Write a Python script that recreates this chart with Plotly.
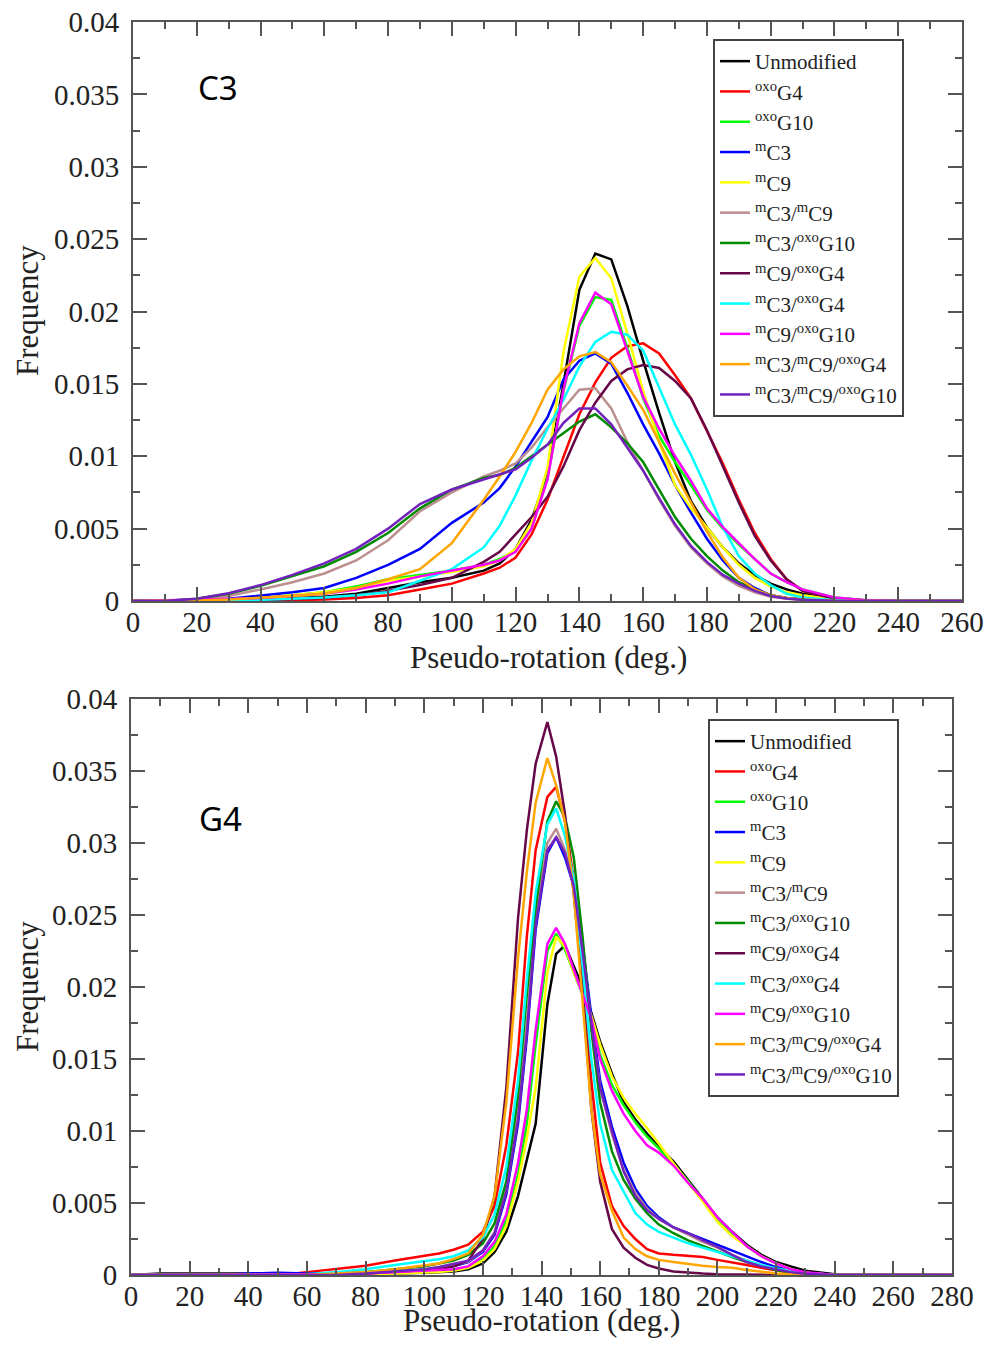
import plotly.graph_objects as go

# ---------------- data (frequency values in units of 1e-3) ----------------
SCALE = 1e-3

SERIES_NAMES = [
    "Unmodified",
    "<sup>oxo</sup>G4",
    "<sup>oxo</sup>G10",
    "<sup>m</sup>C3",
    "<sup>m</sup>C9",
    "<sup>m</sup>C3/<sup>m</sup>C9",
    "<sup>m</sup>C3/<sup>oxo</sup>G10",
    "<sup>m</sup>C9/<sup>oxo</sup>G4",
    "<sup>m</sup>C3/<sup>oxo</sup>G4",
    "<sup>m</sup>C9/<sup>oxo</sup>G10",
    "<sup>m</sup>C3/<sup>m</sup>C9/<sup>oxo</sup>G4",
    "<sup>m</sup>C3/<sup>m</sup>C9/<sup>oxo</sup>G10",
]

COLORS = ["#000000", "#ff0000", "#00ff00", "#0000ff", "#ffff00", "#bc8f8f",
          "#008b00", "#670748", "#00ffff", "#ff00ff", "#ffa500", "#7221bc"]

# ---- panel C3 ----
X_C3 = [0, 10, 20, 30, 40, 50, 60, 70, 80, 90, 100, 110, 115, 120, 125, 130, 135, 140,
        145, 150, 155, 160, 165, 170, 175, 180, 185, 190, 195, 200, 205, 210, 220, 230, 240, 260]

C3_UNMOD = [0, 0, 0, 0.05, 0.1, 0.2, 0.3, 0.5, 0.9, 1.3, 1.6, 2.1, 2.6, 3.6, 5.6, 8.8, 15.0, 21.5,
            24.0, 23.6, 20.4, 16.6, 13.0, 9.6, 6.9, 5.1, 3.7, 2.6, 1.8, 1.2, 0.8, 0.5, 0.15, 0.03, 0, 0]
C3_OXOG4 = [0, 0, 0, 0, 0.03, 0.07, 0.1, 0.2, 0.4, 0.8, 1.2, 1.9, 2.3, 3.0, 4.6, 7.0, 10.0, 12.9,
            15.1, 16.8, 17.6, 17.8, 17.1, 15.6, 14.0, 11.8, 9.5, 7.0, 4.7, 2.9, 1.5, 0.7, 0.15, 0.03, 0, 0]
C3_OXOG10 = [0, 0, 0.05, 0.1, 0.2, 0.4, 0.6, 1.0, 1.5, 1.8, 2.1, 2.5, 2.9, 3.5, 5.0, 8.5, 14.5, 19.0,
             21.0, 20.8, 17.5, 14.0, 11.4, 9.6, 8.0, 6.3, 5.0, 3.9, 2.9, 1.9, 1.3, 0.8, 0.25, 0.05, 0, 0]
C3_MC3 = [0, 0, 0.05, 0.15, 0.35, 0.6, 0.9, 1.6, 2.5, 3.6, 5.4, 6.8, 7.8, 9.3, 11.0, 12.7, 15.3, 16.6,
          17.1, 16.4, 14.4, 12.2, 10.2, 8.0, 6.1, 4.3, 2.8, 1.6, 0.9, 0.4, 0.2, 0.1, 0.02, 0, 0, 0]
C3_MC9 = [0, 0, 0.05, 0.1, 0.2, 0.4, 0.6, 0.9, 1.4, 1.7, 2.0, 2.4, 2.8, 3.6, 5.4, 9.2, 17.2, 22.4,
          23.7, 22.3, 18.5, 14.5, 11.0, 8.0, 6.4, 5.1, 3.7, 2.5, 1.6, 1.0, 0.6, 0.4, 0.1, 0.02, 0, 0]
C3_MC3_MC9 = [0, 0, 0.1, 0.35, 0.8, 1.3, 1.9, 2.8, 4.2, 6.2, 7.5, 8.6, 9.0, 9.5, 10.6, 12.0, 13.3, 14.6,
              14.7, 13.3, 11.0, 9.0, 7.0, 5.2, 3.7, 2.6, 1.7, 1.05, 0.6, 0.3, 0.15, 0.08, 0.02, 0, 0, 0]
C3_MC3_OXOG10 = [0, 0, 0.15, 0.5, 1.05, 1.7, 2.4, 3.4, 4.7, 6.4, 7.7, 8.5, 8.7, 9.2, 10.0, 10.8, 11.6, 12.4,
                 12.9, 12.0, 10.9, 9.6, 7.7, 5.8, 4.3, 3.1, 2.1, 1.3, 0.8, 0.4, 0.2, 0.1, 0.02, 0, 0, 0]
C3_MC9_OXOG4 = [0, 0, 0, 0.03, 0.06, 0.12, 0.2, 0.4, 0.7, 1.1, 1.6, 2.7, 3.4, 4.6, 5.8, 7.2, 9.3, 11.8,
                13.7, 15.2, 16.0, 16.3, 16.1, 15.2, 14.0, 11.8, 9.3, 6.8, 4.5, 2.8, 1.5, 0.7, 0.15, 0.03, 0, 0]
C3_MC3_OXOG4 = [0, 0, 0, 0.03, 0.08, 0.15, 0.25, 0.4, 0.6, 1.4, 2.2, 3.7, 5.2, 7.3, 9.7, 11.9, 13.9, 16.2,
                17.9, 18.6, 18.4, 17.3, 14.8, 12.2, 10.1, 7.7, 5.1, 3.1, 1.9, 1.1, 0.5, 0.25, 0.05, 0, 0, 0]
C3_MC9_OXOG10 = [0, 0.05, 0.1, 0.15, 0.2, 0.35, 0.5, 0.8, 1.2, 1.7, 2.1, 2.5, 2.8, 3.4, 5.0, 8.4, 14.6, 19.2,
                 21.3, 20.5, 17.3, 14.1, 11.9, 10.0, 8.3, 6.4, 5.1, 4.0, 2.9, 1.9, 1.3, 0.8, 0.25, 0.05, 0, 0]
C3_MC3_MC9_OXOG4 = [0, 0, 0.03, 0.1, 0.2, 0.35, 0.5, 0.9, 1.5, 2.2, 4.0, 7.0, 8.6, 10.3, 12.3, 14.6, 16.0, 16.9,
                    17.2, 16.5, 14.9, 13.2, 11.0, 8.8, 6.8, 4.8, 3.0, 1.6, 0.8, 0.4, 0.2, 0.1, 0.02, 0, 0, 0]
C3_MC3_MC9_OXOG10 = [0, 0, 0.15, 0.53, 1.1, 1.8, 2.6, 3.6, 5.0, 6.7, 7.7, 8.4, 8.7, 9.1, 9.9, 10.8, 12.3, 13.3,
                     13.3, 12.2, 10.6, 9.0, 7.1, 5.3, 3.8, 2.7, 1.8, 1.2, 0.7, 0.35, 0.18, 0.08, 0.02, 0, 0, 0]

# ---- panel G4 ----
X_G4 = [0, 10, 20, 30, 40, 50, 60, 70, 80, 90, 100, 105, 110, 115, 120, 124, 128, 132, 135, 138,
        142, 145, 148, 151, 154, 157, 160, 164, 168, 172, 176, 180, 185, 190, 195, 200, 205, 210,
        215, 220, 225, 230, 240, 280]

G4_UNMOD = [0, 0.1, 0.1, 0.1, 0.1, 0.1, 0.05, 0.05, 0.1, 0.1, 0.15, 0.2, 0.25, 0.4, 0.8, 1.6, 3.0, 5.5, 8.0, 10.5,
            18.8, 22.3, 22.9, 21.5, 20.0, 18.2, 16.2, 14.0, 12.0, 10.8, 9.8, 8.9, 7.9, 6.6, 5.3, 4.0, 3.0, 2.1,
            1.4, 0.9, 0.6, 0.3, 0.05, 0]
G4_OXOG4 = [0, 0, 0, 0, 0, 0, 0.2, 0.45, 0.65, 1.0, 1.3, 1.5, 1.75, 2.1, 3.0, 4.8, 9.0, 15.5, 23.5, 29.5,
            33.2, 33.9, 31.5, 27.5, 20.5, 13.5, 7.8, 4.8, 3.4, 2.5, 1.8, 1.5, 1.4, 1.35, 1.25, 1.05, 0.9, 0.7,
            0.5, 0.3, 0.15, 0.05, 0, 0]
G4_OXOG10 = [0, 0, 0, 0, 0, 0, 0, 0.05, 0.1, 0.15, 0.25, 0.3, 0.35, 0.55, 1.1, 2.0, 3.8, 7.0, 10.5, 16.0,
             22.5, 23.7, 22.6, 21.0, 19.5, 17.8, 15.3, 13.2, 11.8, 10.6, 9.6, 8.8, 7.7, 6.5, 5.2, 3.9, 2.9, 2.0,
             1.3, 0.8, 0.4, 0.15, 0, 0]
G4_MC3 = [0, 0, 0, 0, 0.1, 0.15, 0.1, 0.1, 0.15, 0.2, 0.35, 0.45, 0.6, 0.9, 1.6, 2.8, 5.6, 10.5, 16.5, 24.0,
          29.3, 30.4, 29.0, 27.0, 23.0, 18.0, 13.5, 10.3, 7.8, 6.0, 4.8, 4.0, 3.3, 2.9, 2.5, 2.05, 1.65, 1.3,
          0.9, 0.55, 0.3, 0.12, 0.03, 0]
G4_MC9 = [0, 0, 0, 0, 0, 0, 0, 0.03, 0.05, 0.1, 0.15, 0.2, 0.3, 0.5, 1.0, 1.8, 3.4, 6.5, 9.5, 13.0,
          21.0, 23.5, 22.8, 21.0, 19.6, 18.0, 16.0, 13.8, 12.3, 11.2, 10.2, 9.1, 7.8, 6.4, 5.1, 3.7, 2.7, 2.0,
          1.3, 0.8, 0.4, 0.15, 0, 0]
G4_MC3_MC9 = [0, 0, 0, 0, 0, 0, 0, 0, 0.1, 0.2, 0.35, 0.5, 0.65, 0.95, 1.7, 3.0, 6.0, 11.5, 17.5, 24.8,
              30.0, 31.0, 29.5, 27.0, 22.5, 17.5, 13.0, 9.8, 7.3, 5.7, 4.6, 3.9, 3.3, 2.8, 2.3, 1.9, 1.4, 1.0,
              0.65, 0.4, 0.2, 0.08, 0, 0]
G4_MC3_OXOG10 = [0, 0, 0, 0, 0, 0, 0, 0.1, 0.2, 0.4, 0.6, 0.8, 1.0, 1.4, 2.2, 3.6, 6.5, 12.5, 19.5, 25.5,
                 31.5, 32.9, 31.8, 29.0, 23.5, 17.0, 12.0, 8.6, 6.6, 5.3, 4.3, 3.5, 2.9, 2.4, 2.0, 1.6, 1.25, 0.9,
                 0.6, 0.35, 0.15, 0.05, 0, 0]
G4_MC9_OXOG4 = [0, 0, 0, 0, 0, 0, 0, 0.05, 0.1, 0.2, 0.3, 0.4, 0.6, 1.0, 2.5, 5.5, 13.0, 24.8, 30.9, 35.5,
                38.4, 36.0, 32.0, 26.5, 20.0, 11.5, 6.5, 3.2, 1.9, 1.2, 0.7, 0.45, 0.25, 0.15, 0.1, 0.05, 0.03, 0,
                0, 0, 0, 0, 0, 0]
G4_MC3_OXOG4 = [0, 0, 0, 0, 0, 0, 0.05, 0.2, 0.4, 0.7, 0.95, 1.1, 1.3, 1.7, 2.6, 4.2, 7.5, 13.5, 20.5, 26.5,
                31.3, 32.4, 30.5, 27.5, 21.5, 15.0, 10.5, 7.3, 5.8, 4.3, 3.5, 3.0, 2.6, 2.2, 1.9, 1.6, 1.25, 0.95,
                0.7, 0.45, 0.25, 0.1, 0, 0]
G4_MC9_OXOG10 = [0, 0, 0, 0, 0, 0, 0.02, 0.05, 0.1, 0.2, 0.3, 0.35, 0.4, 0.6, 1.3, 2.3, 4.2, 7.8, 11.5, 17.0,
                 23.0, 24.1, 23.0, 21.2, 19.5, 17.8, 15.0, 12.8, 11.2, 10.0, 9.0, 8.5, 7.6, 6.4, 5.3, 4.0, 3.0, 2.0,
                 1.3, 0.8, 0.4, 0.2, 0, 0]
G4_MC3_MC9_OXOG4 = [0, 0, 0, 0, 0, 0, 0, 0.1, 0.2, 0.4, 0.65, 0.8, 1.1, 1.5, 2.8, 5.5, 12.0, 22.0, 28.0, 32.8,
                    35.9, 34.0, 31.5, 26.5, 19.0, 11.5, 7.0, 4.5, 2.6, 1.8, 1.3, 1.05, 0.9, 0.75, 0.65, 0.55, 0.5, 0.35,
                    0.2, 0.1, 0.05, 0, 0, 0]
G4_MC3_MC9_OXOG10 = [0, 0, 0, 0, 0, 0, 0, 0, 0.1, 0.25, 0.4, 0.55, 0.75, 1.0, 1.7, 2.9, 5.8, 10.8, 16.8, 24.3,
                     29.5, 30.4, 29.3, 27.0, 22.5, 17.5, 13.0, 10.0, 7.2, 5.5, 4.5, 3.9, 3.3, 2.9, 2.4, 1.95, 1.4, 0.9,
                     0.6, 0.4, 0.2, 0.08, 0, 0]

C3_SERIES = [C3_UNMOD, C3_OXOG4, C3_OXOG10, C3_MC3, C3_MC9, C3_MC3_MC9, C3_MC3_OXOG10,
             C3_MC9_OXOG4, C3_MC3_OXOG4, C3_MC9_OXOG10, C3_MC3_MC9_OXOG4, C3_MC3_MC9_OXOG10]
G4_SERIES = [G4_UNMOD, G4_OXOG4, G4_OXOG10, G4_MC3, G4_MC9, G4_MC3_MC9, G4_MC3_OXOG10,
             G4_MC9_OXOG4, G4_MC3_OXOG4, G4_MC9_OXOG10, G4_MC3_MC9_OXOG4, G4_MC3_MC9_OXOG10]

X_TICKS_C3 = ["0", "20", "40", "60", "80", "100", "120", "140", "160", "180", "200", "220", "240", "260"]
X_TICKS_G4 = ["0", "20", "40", "60", "80", "100", "120", "140", "160", "180", "200", "220", "240", "260", "280"]
Y_TICKS = ["0", "0.005", "0.01", "0.015", "0.02", "0.025", "0.03", "0.035", "0.04"]

# ---------------- figure ----------------
fig = go.Figure()

for name, color, ys in zip(SERIES_NAMES, COLORS, C3_SERIES):
    fig.add_trace(go.Scatter(x=X_C3, y=[v * SCALE for v in ys], mode="lines", name=name,
                             line=dict(color=color, width=2.5), xaxis="x", yaxis="y",
                             legend="legend"))
for name, color, ys in zip(SERIES_NAMES, COLORS, G4_SERIES):
    fig.add_trace(go.Scatter(x=X_G4, y=[v * SCALE for v in ys], mode="lines", name=name,
                             line=dict(color=color, width=2.5), xaxis="x2", yaxis="y2",
                             legend="legend2"))

FRAME = "#555555"
TICKFONT = dict(family="Liberation Serif", size=29, color="#222222")

# page body has an 8px margin: figure is sized to fit the 993x1348 window exactly
OFF = 8
W, H = 993 - 2 * OFF, 1348 - 2 * OFF


def px_x(px):
    return (px - OFF) / W


def px_y(py):
    return 1 - (py - OFF) / H


def xaxis(domain, labels, anchor):
    return dict(domain=domain, anchor=anchor, range=[0, float(labels[-1])], automargin=False,
                tickmode="array", tickvals=[float(t) for t in labels], ticktext=labels,
                showline=True, linecolor=FRAME, linewidth=2, mirror="ticks",
                ticks="inside", ticklen=14, tickwidth=2, tickcolor=FRAME,
                minor=dict(ticks="inside", ticklen=7, tickwidth=2, tickcolor=FRAME, dtick=10, tick0=0),
                showgrid=False, zeroline=False, tickfont=TICKFONT, ticklabelstandoff=-6,
                ticklabeloverflow="allow")


def yaxis(domain, anchor):
    return dict(domain=domain, anchor=anchor, range=[0, 0.04], automargin=False,
                tickmode="array", tickvals=[float(t) for t in Y_TICKS], ticktext=Y_TICKS,
                showline=True, linecolor=FRAME, linewidth=2, mirror="ticks",
                ticks="inside", ticklen=14, tickwidth=2, tickcolor=FRAME,
                minor=dict(ticks="inside", ticklen=7, tickwidth=2, tickcolor=FRAME, dtick=0.0025, tick0=0),
                showgrid=False, zeroline=False, tickfont=TICKFONT, ticklabelstandoff=6,
                ticklabeloverflow="allow")


LEGEND_FONT = dict(family="Liberation Serif", size=21, color="#222222")
fig.update_layout(
    template="none",
    width=W, height=H,
    margin=dict(l=0, r=0, t=0, b=0, autoexpand=False),
    paper_bgcolor="white", plot_bgcolor="white",
    xaxis=xaxis([px_x(133), px_x(962)], X_TICKS_C3, "y"),
    yaxis=yaxis([px_y(601), px_y(22)], "x"),
    xaxis2=xaxis([px_x(131), px_x(952)], X_TICKS_G4, "y2"),
    yaxis2=yaxis([px_y(1275), px_y(699)], "x2"),
    legend=dict(x=px_x(713), y=px_y(39), xanchor="left", yanchor="top",
                bgcolor="white", bordercolor="#444444", borderwidth=2,
                font=LEGEND_FONT, tracegroupgap=0, itemwidth=30),
    legend2=dict(x=px_x(708), y=px_y(719), xanchor="left", yanchor="top",
                 bgcolor="white", bordercolor="#444444", borderwidth=2,
                 font=LEGEND_FONT, tracegroupgap=0, itemwidth=30),
    showlegend=True,
)

TITLE_FONT = dict(family="Liberation Serif", size=31, color="#222222")
LABEL_FONT = dict(family="Noto Sans", size=33, color="#000000")
annotations = [
    dict(text="Pseudo-rotation (deg.)", x=px_x(548), y=px_y(657), font=TITLE_FONT, yanchor="middle"),
    dict(text="Pseudo-rotation (deg.)", x=px_x(541), y=px_y(1340), font=TITLE_FONT, yanchor="bottom"),
    dict(text="Frequency", x=px_x(27), y=px_y(311), textangle=-90, font=TITLE_FONT, yanchor="middle"),
    dict(text="Frequency", x=px_x(27), y=px_y(987), textangle=-90, font=TITLE_FONT, yanchor="middle"),
    dict(text="C3", x=px_x(218), y=px_y(88), font=LABEL_FONT, yanchor="middle"),
    dict(text="G4", x=px_x(220), y=px_y(818), font=LABEL_FONT, yanchor="middle"),
]
for a in annotations:
    a.update(xref="paper", yref="paper", showarrow=False, xanchor="center")
fig.update_layout(annotations=annotations)

fig.write_html("out.html")
